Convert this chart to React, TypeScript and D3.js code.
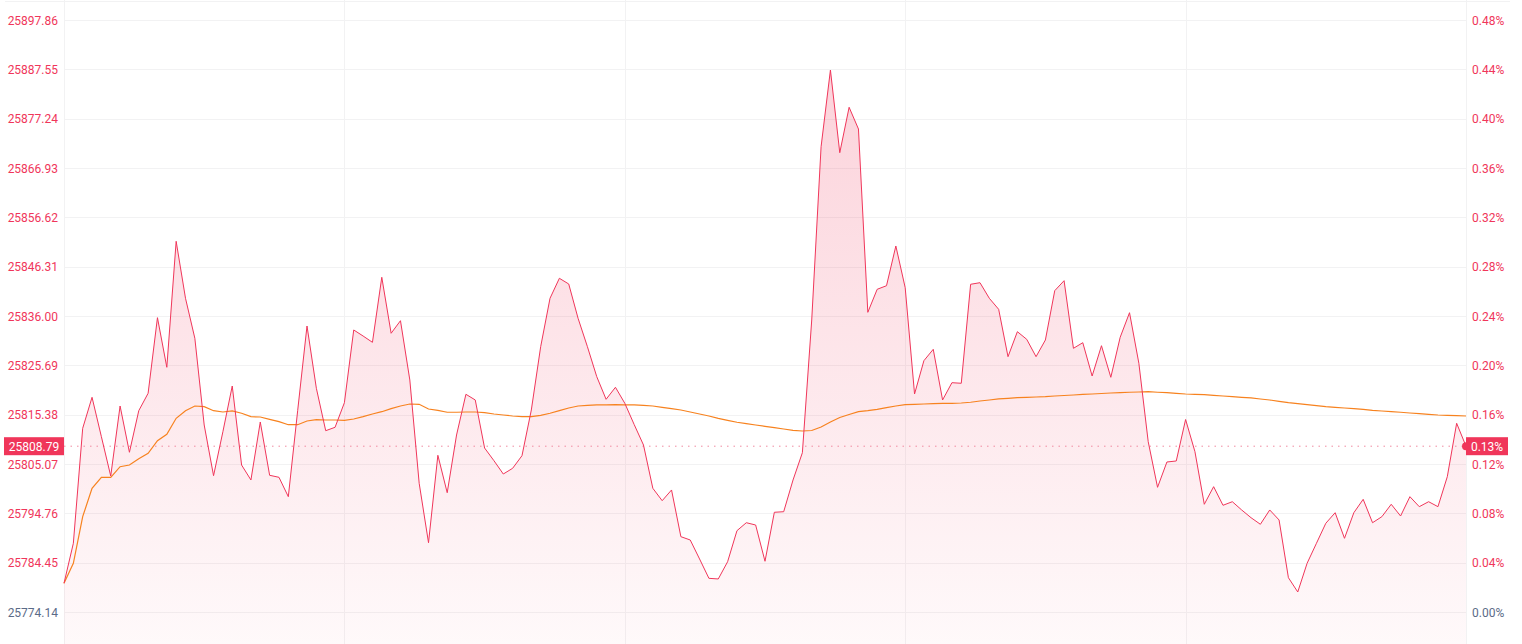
import React from "react";
import * as d3 from "d3";

const prevClose = 25774.14;
const lastPrice = 25808.79;
const leftTicks = [25774.14, 25784.45, 25794.76, 25805.07, 25815.38, 25825.69, 25836.0, 25846.31, 25856.62, 25866.93, 25877.24, 25887.55, 25897.86];
const rightTickLabels = ["0.00%", "0.04%", "0.08%", "0.12%", "0.16%", "0.20%", "0.24%", "0.28%", "0.32%", "0.36%", "0.40%", "0.44%", "0.48%"];
const verticalGridIdx = [0, 30, 60, 90, 120, 150];

const price = [
  25780.14, 25788.5, 25812.53, 25819.01, 25810.78, 25802.56, 25817.19, 25807.52, 25816.21, 25819.85,
  25835.65, 25825.28, 25851.61, 25839.7, 25831.34, 25813.22, 25802.63, 25811.82, 25821.37, 25804.86,
  25801.73, 25813.85, 25802.71, 25802.29, 25798.24, 25816.21, 25833.91, 25820.89, 25812.03, 25812.74,
  25817.88, 25833.08, 25831.82, 25830.5, 25844.09, 25832.39, 25835.02, 25822.63, 25801.04, 25788.62,
  25806.89, 25799.07, 25811.13, 25819.64, 25818.45, 25808.41, 25805.76, 25802.98, 25804.17, 25806.81,
  25816.36, 25829.59, 25839.7, 25843.88, 25842.69, 25835.52, 25829.59, 25823.32, 25818.59, 25821.1,
  25817.76, 25813.33, 25809.04, 25799.99, 25797.4, 25799.64, 25789.88, 25789.19, 25785.22, 25781.18,
  25781.04, 25784.65, 25791.13, 25792.8, 25792.32, 25784.74, 25794.98, 25795.1, 25801.73, 25807.43,
  25835.17, 25871.38, 25887.41, 25870.13, 25879.62, 25875.08, 25836.77, 25841.58, 25842.33, 25850.63,
  25841.92, 25819.7, 25826.66, 25829.04, 25818.45, 25822.06, 25821.94, 25842.63, 25842.96, 25839.7,
  25837.4, 25827.5, 25832.72, 25831.13, 25827.5, 25830.99, 25841.29, 25843.38, 25829.25, 25830.42,
  25823.46, 25829.79, 25823.19, 25831.55, 25836.69, 25826.12, 25809.73, 25800.2, 25805.49, 25805.7,
  25814.37, 25807.64, 25796.65, 25800.33, 25796.44, 25797.19, 25795.46, 25793.85, 25792.47, 25795.46,
  25793.37, 25781.31, 25778.32, 25784.32, 25788.5, 25792.68, 25794.89, 25789.54, 25794.89, 25797.69,
  25792.8, 25794.06, 25796.65, 25794.2, 25798.24, 25796.15, 25797.19, 25796.15, 25802.42, 25813.58,
  25808.79,
];

const avgPrice = [
  25780.14, 25784.32, 25794.06, 25799.99, 25802.29, 25802.29, 25804.51, 25804.86, 25806.18, 25807.31,
  25809.94, 25811.28, 25814.62, 25816.21, 25817.19, 25817.05, 25816.21, 25815.94, 25816.15, 25815.67,
  25814.96, 25814.89, 25814.41, 25813.91, 25813.28, 25813.28, 25814.06, 25814.33, 25814.27, 25814.27,
  25814.2, 25814.47, 25814.96, 25815.52, 25816.0, 25816.63, 25817.19, 25817.61, 25817.55, 25816.56,
  25816.29, 25815.88, 25815.88, 25815.94, 25815.94, 25815.8, 25815.52, 25815.31, 25815.1, 25814.96,
  25814.96, 25815.25, 25815.67, 25816.21, 25816.77, 25817.19, 25817.34, 25817.41, 25817.41, 25817.47,
  25817.41, 25817.41, 25817.34, 25817.19, 25816.92, 25816.63, 25816.36, 25815.94, 25815.52, 25815.1,
  25814.62, 25814.2, 25813.79, 25813.49, 25813.22, 25812.95, 25812.66, 25812.39, 25812.11, 25811.97,
  25812.07, 25812.8, 25813.85, 25814.79, 25815.42, 25816.0, 25816.21, 25816.5, 25816.84, 25817.19,
  25817.46, 25817.55, 25817.61, 25817.67, 25817.76, 25817.76, 25817.82, 25817.97, 25818.24, 25818.45,
  25818.66, 25818.8, 25818.93, 25819.01, 25819.07, 25819.14, 25819.28, 25819.39, 25819.49, 25819.6,
  25819.7, 25819.8, 25819.91, 25819.97, 25820.06, 25820.12, 25820.18, 25820.06, 25819.97, 25819.85,
  25819.7, 25819.64, 25819.55, 25819.43, 25819.28, 25819.14, 25819.01, 25818.87, 25818.66, 25818.45,
  25818.17, 25817.88, 25817.67, 25817.46, 25817.25, 25817.05, 25816.92, 25816.77, 25816.63, 25816.5,
  25816.29, 25816.15, 25816.0, 25815.88, 25815.73, 25815.58, 25815.46, 25815.31, 25815.25, 25815.17,
  25815.1,
];

const RED = "#f0365a";
const ORANGE = "#f7821f";
const GRID = "#f2f2f3";
const SLATE = "#5b6b88";
const FONT = "Roboto, 'Noto Sans', sans-serif";

export default function App() {
  const W = 1522;
  const H = 644;
  const x = d3.scaleLinear().domain([0, price.length - 1]).range([64, 1466]);
  const y = d3.scaleLinear().domain([leftTicks[0], leftTicks[leftTicks.length - 1]]).range([612, 20]);

  const line = d3.line<number>().x((_, i) => x(i)).y((d) => y(d));
  const area = d3.area<number>().x((_, i) => x(i)).y0(H).y1((d) => y(d));
  const maxY = y(d3.max(price) as number);
  const lastY = y(lastPrice);
  const pct = ((lastPrice - prevClose) / prevClose) * 100;
  const ty = 1.5;

  return (
    <svg width={W} height={H} style={{ position: "absolute", left: 0, top: 0, background: "#fff" }} fontFamily={FONT}>
      <defs>
        <linearGradient id="fillGrad" gradientUnits="userSpaceOnUse" x1={0} y1={maxY} x2={0} y2={H}>
          <stop offset="0" stopColor={RED} stopOpacity={0.22} />
          <stop offset="1" stopColor={RED} stopOpacity={0.03} />
        </linearGradient>
      </defs>
      <line x1={5} x2={1510} y1={1.5} y2={1.5} stroke={GRID} />
      {leftTicks.map((t) => (
        <line key={"h" + t} x1={64} x2={1466} y1={Math.round(y(t)) + 0.5} y2={Math.round(y(t)) + 0.5} stroke={GRID} />
      ))}
      {verticalGridIdx.map((i) => (
        <line key={"v" + i} x1={Math.round(x(i)) + 0.5} x2={Math.round(x(i)) + 0.5} y1={0} y2={H} stroke={GRID} />
      ))}
      <path d={area(price) || ""} fill="url(#fillGrad)" />
      <line x1={64} x2={1466} y1={lastY} y2={lastY} stroke="#f08aa0" strokeWidth={1} strokeDasharray="1.5 5" />
      <path d={line(avgPrice) || ""} fill="none" stroke={ORANGE} strokeWidth={1.2} />
      <path d={line(price) || ""} fill="none" stroke={RED} strokeWidth={1} strokeLinejoin="round" />
      {leftTicks.map((t, i) => (
        <text key={"lt" + t} x={58} y={y(t) + ty} textAnchor="end" dominantBaseline="middle" fontSize={12} fill={i === 0 ? SLATE : RED}>
          {t.toFixed(2)}
        </text>
      ))}
      {rightTickLabels.map((l, i) => (
        <text key={"rt" + l} x={1472} y={y(leftTicks[i]) + ty} textAnchor="start" dominantBaseline="middle" fontSize={12} fill={i === 0 ? SLATE : RED}>
          {l}
        </text>
      ))}
      <rect x={4} y={lastY - 9} width={60} height={18} fill={RED} />
      <text x={34} y={lastY + ty} textAnchor="middle" dominantBaseline="middle" fontSize={12} fill="#fff">
        {lastPrice.toFixed(2)}
      </text>
      <circle cx={x(price.length - 1)} cy={lastY} r={4} fill={RED} />
      <rect x={1466} y={lastY - 9} width={42} height={18} fill={RED} />
      <text x={1487} y={lastY + ty} textAnchor="middle" dominantBaseline="middle" fontSize={12} fill="#fff">
        {pct.toFixed(2) + "%"}
      </text>
    </svg>
  );
}
